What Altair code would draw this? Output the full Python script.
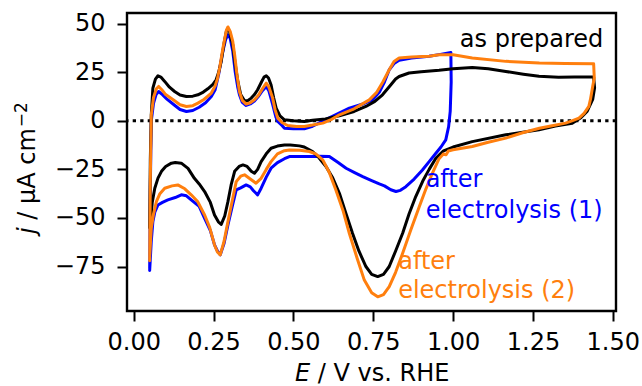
import altair as alt
import pandas as pd

# (E / V vs. RHE, j / uA cm^-2), in sweep order
AS_PREPARED = [
    (0.050, -55), (0.052, -20), (0.055, 3), (0.060, 16.8), (0.068, 21.5), (0.076, 23.2),
    (0.085, 22.5), (0.097, 20.3), (0.112, 17.3), (0.128, 15.1), (0.145, 13.3), (0.165, 12.5),
    (0.185, 12.7), (0.201, 13.4), (0.218, 14.8), (0.232, 16.5), (0.248, 18.8), (0.258, 21.1),
    (0.266, 25), (0.274, 30.6), (0.283, 40), (0.290, 46), (0.295, 47.4), (0.300, 46),
    (0.310, 39.2), (0.318, 29), (0.326, 20.3), (0.335, 13.5), (0.347, 10.3), (0.358, 10.5),
    (0.368, 11.7), (0.378, 13.5), (0.388, 16), (0.400, 20), (0.408, 22.5), (0.415, 23.2),
    (0.422, 22), (0.430, 18.6), (0.438, 12), (0.446, 6.5), (0.458, 2.5), (0.472, 0.5),
    (0.500, 0.0), (0.534, -0.3), (0.560, 0.3), (0.600, 1.0), (0.644, 2.6), (0.690, 4.8),
    (0.727, 7.4), (0.755, 10), (0.779, 13.4), (0.800, 17.5), (0.820, 21.5), (0.831, 22.8),
    (0.862, 24.6), (0.900, 25.2), (0.956, 26.0), (1.000, 26.8), (1.060, 27.5), (1.110, 26.8),
    (1.165, 25.4), (1.220, 24), (1.269, 22.9), (1.330, 22.4), (1.380, 22.5), (1.440, 22.5),
    (1.443, 17), (1.437, 11), (1.420, 5), (1.400, 1.6), (1.373, -1.2), (1.320, -2.7),
    (1.269, -4.6), (1.165, -7.2), (1.060, -10.7), (1.000, -13.5), (0.970, -15.5), (0.945, -19.5),
    (0.925, -25), (0.905, -31), (0.883, -39), (0.862, -48), (0.842, -57.9), (0.820, -67),
    (0.800, -75), (0.782, -79), (0.764, -80.2), (0.745, -79), (0.727, -75), (0.705, -67),
    (0.685, -57.9), (0.664, -47.5), (0.644, -37.3), (0.622, -29), (0.602, -23.5), (0.580, -19),
    (0.560, -15.8), (0.534, -13.5), (0.519, -12.9), (0.490, -12.5), (0.472, -12.4), (0.450, -13),
    (0.430, -14.1), (0.415, -17), (0.399, -21), (0.388, -25), (0.378, -27), (0.368, -26),
    (0.355, -23.5), (0.342, -22.7), (0.330, -23.5), (0.316, -26), (0.305, -33), (0.295, -41.6),
    (0.285, -49), (0.274, -53.3), (0.265, -52), (0.253, -48.5), (0.240, -42), (0.222, -36.4),
    (0.205, -32.5), (0.190, -29.6), (0.170, -24.5), (0.149, -21.8), (0.130, -21.5), (0.118, -21.8),
    (0.100, -23.5), (0.087, -26), (0.076, -29.5), (0.066, -34.7), (0.058, -42), (0.055, -48.5),
    (0.050, -55),
]

AFTER_EL_1 = [
    (0.050, -76), (0.052, -35), (0.055, 0), (0.062, 9), (0.070, 13.5), (0.078, 15.1),
    (0.090, 13.5), (0.105, 11), (0.128, 8), (0.145, 5.8), (0.165, 4.8), (0.185, 5.3),
    (0.205, 7), (0.225, 9.3), (0.243, 12.5), (0.255, 16), (0.266, 24), (0.278, 35),
    (0.288, 42), (0.295, 44.3), (0.302, 42.5), (0.310, 36), (0.318, 25), (0.326, 17),
    (0.331, 13.4), (0.340, 9.5), (0.352, 7.9), (0.365, 8.7), (0.378, 10.2), (0.390, 12.5),
    (0.403, 15.5), (0.415, 17.7), (0.423, 15.5), (0.435, 8.5), (0.445, 2), (0.451, -0.3),
    (0.465, -2.5), (0.472, -3.8), (0.500, -4.1), (0.534, -4.1), (0.560, -2.8), (0.590, -0.3),
    (0.630, 3), (0.675, 6.5), (0.715, 8.5), (0.748, 10.8), (0.770, 15), (0.785, 20),
    (0.800, 26.3), (0.815, 29.5), (0.831, 31.2), (0.870, 32.3), (0.925, 33.2), (0.960, 34.2),
    (0.993, 35.2), (0.994, 20), (0.991, 5), (0.986, -3), (0.977, -9.8), (0.962, -13.5),
    (0.946, -16.7), (0.925, -21), (0.904, -25.3), (0.878, -30), (0.852, -33.9), (0.835, -35.8),
    (0.821, -36.4), (0.805, -35.5), (0.785, -33.5), (0.769, -32.5), (0.745, -30.8), (0.717, -28.7),
    (0.690, -26.5), (0.665, -24.4), (0.640, -21.5), (0.6125, -18.4), (0.580, -18.2), (0.550, -18.4),
    (0.520, -18.4), (0.4875, -18.4), (0.472, -19.5), (0.450, -21.5), (0.430, -24.4), (0.415, -29),
    (0.399, -34.7), (0.388, -38.1), (0.375, -36), (0.365, -34), (0.352, -33), (0.335, -34.5),
    (0.321, -35.6), (0.310, -43), (0.295, -53.6), (0.283, -63), (0.271, -69), (0.262, -67),
    (0.253, -63.9), (0.240, -56.5), (0.222, -50.2), (0.205, -44), (0.180, -40.7), (0.165, -38.6),
    (0.149, -38.1), (0.130, -39.5), (0.107, -40.7), (0.090, -42), (0.076, -43.3), (0.066, -47),
    (0.060, -51.9), (0.055, -62), (0.050, -77),
]

AFTER_EL_2 = [
    (0.050, -72), (0.052, -30), (0.055, 3), (0.062, 12), (0.071, 16.5), (0.078, 17.7),
    (0.088, 16), (0.100, 13.5), (0.128, 10.3), (0.145, 8.3), (0.165, 7.4), (0.185, 7.8),
    (0.201, 9.1), (0.220, 11), (0.243, 14.3), (0.255, 18), (0.262, 21.5), (0.269, 27.2),
    (0.280, 38), (0.290, 46.5), (0.295, 48.3), (0.302, 46), (0.310, 41), (0.316, 34),
    (0.323, 24), (0.331, 15.1), (0.340, 10.5), (0.352, 8.6), (0.365, 9.3), (0.378, 10.8),
    (0.390, 13), (0.403, 16.5), (0.415, 19.4), (0.423, 17.5), (0.435, 11.7), (0.443, 5.5),
    (0.451, 1.4), (0.465, -1.0), (0.482, -2.4), (0.510, -2.9), (0.534, -2.9), (0.560, -2.2),
    (0.592, -1.2), (0.620, 0.8), (0.644, 3.1), (0.690, 6.2), (0.7375, 10.8), (0.760, 14.5),
    (0.780, 20), (0.800, 26.3), (0.815, 30.5), (0.831, 32.3), (0.870, 32.8), (0.925, 33.2),
    (0.956, 34), (1.000, 34.0), (1.060, 32.3), (1.165, 30.6), (1.270, 29.7), (1.350, 29.5),
    (1.440, 29.4), (1.442, 22), (1.437, 17.7), (1.430, 11), (1.425, 7.4), (1.410, 3.8),
    (1.394, 1.4), (1.372, 0), (1.352, -1.2), (1.310, -2.5), (1.270, -3.8), (1.220, -6),
    (1.165, -8.9), (1.110, -11), (1.060, -13.2), (1.000, -14.9), (0.985, -15.5), (0.978, -17.5),
    (0.970, -17), (0.956, -19.5), (0.935, -27), (0.915, -35), (0.894, -44.2), (0.868, -56),
    (0.842, -68.2), (0.820, -78), (0.800, -85.4), (0.782, -89.5), (0.764, -90.6), (0.745, -88.5),
    (0.722, -82), (0.700, -71), (0.675, -57.9), (0.655, -46), (0.633, -35.6), (0.612, -26.5),
    (0.592, -20.1), (0.570, -17), (0.550, -15.8), (0.520, -15.2), (0.4875, -15), (0.472, -15.4),
    (0.450, -17), (0.430, -21), (0.415, -25), (0.399, -29.6), (0.383, -32.1), (0.365, -30),
    (0.347, -27.8), (0.335, -28.5), (0.321, -31.3), (0.310, -40), (0.295, -51.9), (0.283, -62),
    (0.271, -69), (0.262, -67.5), (0.253, -63.9), (0.238, -55), (0.222, -48.5), (0.200, -41.5),
    (0.180, -38.1), (0.160, -35), (0.138, -33), (0.120, -33.5), (0.097, -34.7), (0.082, -37.5),
    (0.071, -41.6), (0.062, -48), (0.055, -55.3), (0.050, -70),
]

SERIES_NAMES = ["after electrolysis (1)", "as prepared", "after electrolysis (2)"]
SERIES_COLORS = ["#0000ff", "#000000", "#ff7f0e"]

X_TICKS = [0.0, 0.25, 0.5, 0.75, 1.0, 1.25, 1.5]
Y_TICKS = [-75, -50, -25, 0, 25, 50]

LABEL_TEXT = ["as prepared", "after", "electrolysis (1)", "after", "electrolysis (2)"]
LABEL_E = [1.021, 0.914, 0.914, 0.828, 0.828]
LABEL_J = [37.9, -34.2, -49.9, -76.3, -91.1]
LABEL_COLOR = ["#000000", "#0000ff", "#0000ff", "#ff7f0e", "#ff7f0e"]

FONT = "DejaVu Sans"
FS = 24

rows = []
for name, pts in zip(SERIES_NAMES, [AFTER_EL_1, AS_PREPARED, AFTER_EL_2]):
    for i, (e, j) in enumerate(pts):
        rows.append({"series": name, "E": e, "j": j, "idx": i})
df = pd.DataFrame(rows)

labels_df = pd.DataFrame({"text": LABEL_TEXT, "E": LABEL_E, "j": LABEL_J, "color": LABEL_COLOR})

x_scale = alt.Scale(domain=[-0.021, 1.51], nice=False, zero=False)
y_scale = alt.Scale(domain=[-97.9, 55.5], nice=False, zero=False)

x_axis = alt.Axis(values=X_TICKS, format=".2f", title=None, grid=False, domain=False,
                  labelFlush=False, labelOverlap=False, labelPadding=9)
y_axis = alt.Axis(values=Y_TICKS, format="d", title=None, grid=False, domain=False,
                  labelFlush=False, labelOverlap=False, labelPadding=12)

layers = []

zero_line = alt.Chart(pd.DataFrame({"z": [0]})).mark_rule(
    color="black", strokeWidth=3, strokeDash=[3.3, 4.2]
).encode(y=alt.Y("z:Q", scale=y_scale, axis=y_axis))
layers.append(zero_line)

for name, color in zip(SERIES_NAMES, SERIES_COLORS):
    layers.append(
        alt.Chart(df).transform_filter(alt.datum.series == name).mark_line(
            color=color, strokeWidth=3, strokeJoin="round", strokeCap="round"
        ).encode(
            x=alt.X("E:Q", scale=x_scale, axis=x_axis),
            y=alt.Y("j:Q", scale=y_scale, axis=y_axis),
            order="idx:Q",
        )
    )

layers.append(
    alt.Chart(labels_df).mark_text(
        align="left", baseline="alphabetic", font=FONT, fontSize=FS
    ).encode(
        x=alt.X("E:Q", scale=x_scale, axis=x_axis),
        y=alt.Y("j:Q", scale=y_scale, axis=y_axis),
        text="text:N",
        color=alt.Color("color:N", scale=None),
    )
)

# axis titles (mixed italic), positioned in pixels relative to the plot area
def txt(s, x, y, size=FS, style="normal", angle=0):
    return alt.Chart(pd.DataFrame({"t": [s]})).mark_text(
        align="left", baseline="alphabetic", font=FONT, fontSize=size,
        fontStyle=style, angle=angle, color="black"
    ).encode(x=alt.value(x), y=alt.value(y), text="t:N")

w = FS / 2048.0
SPACE = 651
x0 = 168
layers.append(txt("E", x0, 368, style="italic"))
layers.append(txt("/ V vs. RHE", x0 + (1294 + SPACE) * w, 368))

y0 = 221
xb = -92
layers.append(txt("j", xb, y0, style="italic", angle=270))
layers.append(txt("/ \u03bcA cm", xb, y0 - (569 + SPACE) * w, angle=270))
layers.append(txt("\u22122", xb - 8, y0 - (569 + SPACE + 7814) * w - 1, size=17, angle=270))

chart = alt.layer(*layers).properties(
    width=489, height=298,
    padding={"left": 127, "top": 13, "right": 26, "bottom": 75},
    autosize=alt.AutoSizeParams(type="none"),
).configure_view(
    stroke="black", strokeWidth=2.4
).configure_axis(
    labelFont=FONT, labelFontSize=FS, labelColor="black",
    tickColor="black", tickSize=10, tickWidth=2,
)

chart.save("out.html", embed_options={"renderer": "svg", "actions": False})
